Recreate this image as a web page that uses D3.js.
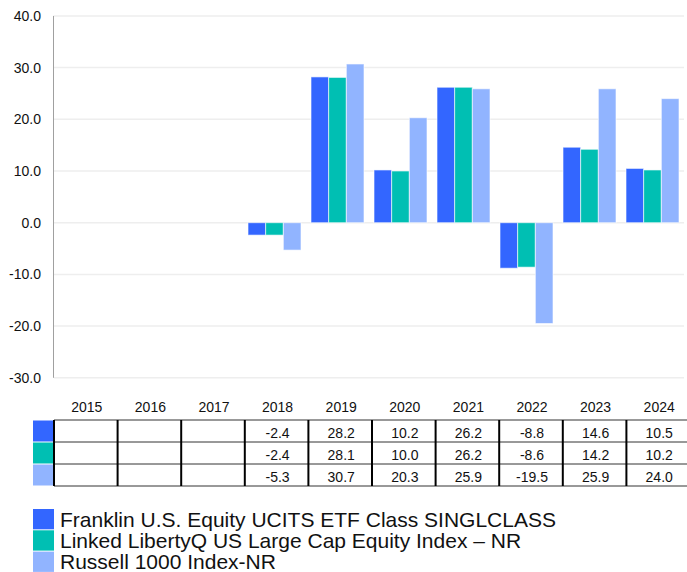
<!DOCTYPE html>
<html>
<head>
<meta charset="utf-8">
<script src="https://cdn.jsdelivr.net/npm/d3@7"></script>
<style>
  body { margin: 0; background: #fff; }
  svg { display: block; font-family: "Liberation Sans", Arial, sans-serif; }
</style>
</head>
<body>
<div id="chart"></div>
<script>
// data
const years = ['2015', '2016', '2017', '2018', '2019', '2020', '2021', '2022', '2023', '2024'];
const seriesNames = [
  'Franklin U.S. Equity UCITS ETF Class SINGLCLASS',
  'Linked LibertyQ US Large Cap Equity Index \u2013 NR',
  'Russell 1000 Index-NR'
];
const franklin = [null, null, null, -2.4, 28.2, 10.2, 26.2, -8.8, 14.6, 10.5];
const libertyQ = [null, null, null, -2.4, 28.1, 10.0, 26.2, -8.6, 14.2, 10.2];
const russell  = [null, null, null, -5.3, 30.7, 20.3, 25.9, -19.5, 25.9, 24.0];
const yTicks = [40, 30, 20, 10, 0, -10, -20, -30];
const colors = ['#3366ff', '#00bfb3', '#91b4ff'];

const seriesValues = [franklin, libertyQ, russell];

const width = 687, height = 572;
const svg = d3.select('#chart').append('svg')
  .attr('width', width)
  .attr('height', height);

const y = d3.scaleLinear().domain([-30, 40]).range([377.8, 15.9]);
const x = d3.scaleBand().domain(years).range([54, 684]);
const xs = d3.scaleBand().domain(d3.range(3)).range([5, x.bandwidth() - 5]);

// gridlines
svg.append('g')
  .selectAll('line')
  .data(yTicks)
  .enter().append('line')
  .attr('x1', 54).attr('x2', 684)
  .attr('y1', d => y(d)).attr('y2', d => y(d))
  .attr('stroke', '#eeeeee')
  .attr('stroke-width', 1.5);

// y axis
svg.append('line')
  .attr('x1', 53.5).attr('x2', 53.5)
  .attr('y1', y(40)).attr('y2', y(-30))
  .attr('stroke', '#a0a0a0')
  .attr('stroke-width', 1);

svg.append('g')
  .selectAll('text')
  .data(yTicks)
  .enter().append('text')
  .attr('x', 41)
  .attr('y', d => y(d))
  .attr('dy', '0.35em')
  .attr('text-anchor', 'end')
  .style('font-size', '14px')
  .attr('fill', '#111')
  .text(d => d.toFixed(1));

// bars
const groups = svg.append('g')
  .selectAll('g')
  .data(years)
  .enter().append('g')
  .attr('transform', d => `translate(${x(d)},0)`);

groups.selectAll('rect')
  .data((d, i) => seriesValues.map((s, k) => ({ k: k, v: s[i] })).filter(e => e.v !== null))
  .enter().append('rect')
  .attr('x', d => xs(d.k))
  .attr('width', xs.bandwidth())
  .attr('y', d => y(Math.max(0, d.v)))
  .attr('height', d => Math.abs(y(d.v) - y(0)))
  .attr('fill', d => colors[d.k])
  .attr('stroke', 'rgba(255,255,255,0.6)')
  .attr('stroke-width', 1);

// data table
const tx = d3.scaleBand().domain(years).range([54, 690]);
const rowTop = 420, rowH = 22;

svg.append('g')
  .selectAll('text')
  .data(years)
  .enter().append('text')
  .attr('x', d => tx(d) + tx.bandwidth() / 2 + 1)
  .attr('y', 412)
  .attr('text-anchor', 'middle')
  .style('font-size', '14px')
  .attr('fill', '#111')
  .text(d => d);

// swatches
svg.append('g')
  .selectAll('rect')
  .data(colors)
  .enter().append('rect')
  .attr('x', 33)
  .attr('y', (d, i) => rowTop + i * rowH + 0.5)
  .attr('width', 21)
  .attr('height', rowH - 1)
  .attr('fill', d => d);

// horizontal table lines
svg.append('g')
  .selectAll('line')
  .data(d3.range(4))
  .enter().append('line')
  .attr('x1', 54).attr('x2', 690)
  .attr('y1', d => rowTop + d * rowH).attr('y2', d => rowTop + d * rowH)
  .attr('stroke', '#333')
  .attr('stroke-width', 1);

// vertical table lines
svg.append('g')
  .selectAll('line')
  .data(years)
  .enter().append('line')
  .attr('x1', d => tx(d)).attr('x2', d => tx(d))
  .attr('y1', rowTop).attr('y2', rowTop + 3 * rowH)
  .attr('stroke', '#000')
  .attr('stroke-width', 2);

// cell values
seriesValues.forEach((s, k) => {
  svg.append('g')
    .selectAll('text')
    .data(years.map((yr, i) => ({ yr: yr, v: s[i] })).filter(d => d.v !== null))
    .enter().append('text')
    .attr('x', d => tx(d.yr) + tx.bandwidth() / 2 + 1)
    .attr('y', rowTop + k * rowH + rowH / 2 + 2)
    .attr('dy', '0.35em')
    .attr('text-anchor', 'middle')
    .style('font-size', '14px')
    .attr('fill', '#111')
    .text(d => d.v.toFixed(1));
});

// legend
const legend = svg.append('g')
  .selectAll('g')
  .data(seriesNames)
  .enter().append('g')
  .attr('transform', (d, i) => `translate(0,${509 + i * 21.3})`);

legend.append('rect')
  .attr('x', 33)
  .attr('y', 0)
  .attr('width', 21)
  .attr('height', 20.3)
  .attr('fill', (d, i) => colors[i]);

legend.append('text')
  .attr('x', 60)
  .attr('y', 17.5)
  .style('font-size', '21px')
  .attr('fill', '#111')
  .text(d => d);
</script>
</body>
</html>
